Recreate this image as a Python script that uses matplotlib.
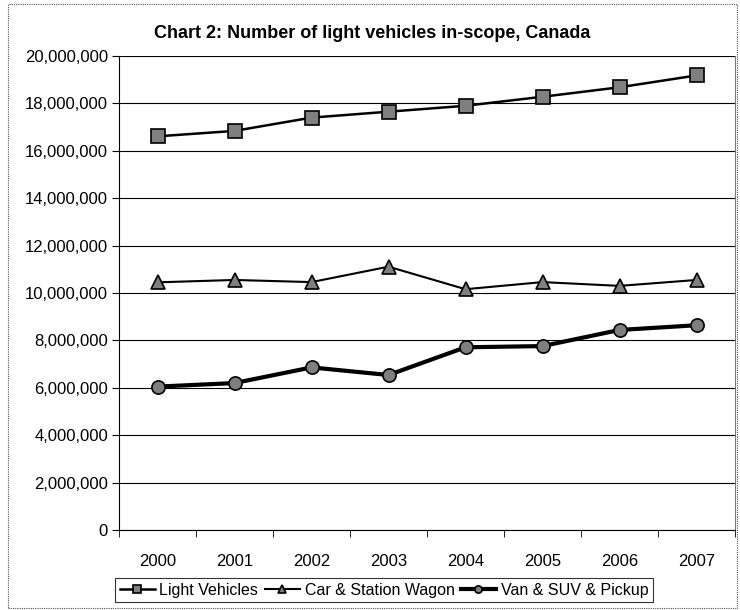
import matplotlib.pyplot as plt
from matplotlib.ticker import FuncFormatter, FixedLocator
from matplotlib.patches import Rectangle

plt.rcParams['font.family'] = ['Liberation Sans', 'DejaVu Sans']

years = ["2000", "2001", "2002", "2003", "2004", "2005", "2006", "2007"]
light_vehicles = [16.61e6, 16.84e6, 17.40e6, 17.65e6, 17.90e6, 18.28e6, 18.68e6, 19.18e6]
car_wagon = [10.45e6, 10.55e6, 10.46e6, 11.11e6, 10.16e6, 10.46e6, 10.30e6, 10.55e6]
van_suv = [6.05e6, 6.20e6, 6.86e6, 6.54e6, 7.71e6, 7.76e6, 8.44e6, 8.64e6]

fig = plt.figure(figsize=(7.4, 6.1), dpi=100)
ax = fig.add_axes([119 / 740, 1 - 530 / 610, (735 - 119) / 740, (530 - 56) / 610])

# outer chart frame
fig.patches.append(Rectangle((8 / 740, 2 / 610), (737 - 8) / 740, (606 - 2) / 610,
                             transform=fig.transFigure, fill=False,
                             edgecolor="#555555", linewidth=0.8, linestyle=(0, (1, 1))))

x = range(len(years))
ax.plot(x, light_vehicles, color="black", linewidth=1.8, marker="s", markersize=9.5,
        markerfacecolor="#7f7f7f", markeredgecolor="black", markeredgewidth=1.2,
        label="Light Vehicles")
ax.plot(x, car_wagon, color="black", linewidth=1.5, marker="^", markersize=10,
        markerfacecolor="#7f7f7f", markeredgecolor="black", markeredgewidth=1.2,
        label="Car & Station Wagon")
ax.plot(x, van_suv, color="black", linewidth=3, marker="o", markersize=9.5,
        markerfacecolor="#7f7f7f", markeredgecolor="black", markeredgewidth=1.2,
        label="Van & SUV & Pickup")

ax.set_xlim(-0.5, len(years) - 0.5)
ax.set_ylim(0, 20e6)
ax.set_yticks(range(0, 20000001, 2000000))
ax.yaxis.set_major_formatter(FuncFormatter(lambda v, p: f"{int(v):,}"))
ax.yaxis.grid(True, color="black", linewidth=0.8)
ax.set_axisbelow(True)

# category labels centred, ticks between categories
ax.set_xticks(list(x))
ax.set_xticklabels(years)
ax.tick_params(axis="x", length=0, pad=17, labelsize=12)
ax.xaxis.set_minor_locator(FixedLocator([i - 0.5 for i in range(len(years) + 1)]))
ax.tick_params(axis="x", which="minor", length=5, direction="out", color="black")
ax.tick_params(axis="y", length=5, direction="out", labelsize=12, pad=3)

ax.spines["left"].set_color("black")
ax.spines["bottom"].set_color("black")
ax.spines["top"].set_visible(False)
ax.spines["right"].set_color("#777777")
ax.spines["right"].set_linestyle((0, (1, 1)))
ax.spines["right"].set_linewidth(0.8)

fig.text(372 / 740, 1 - 34 / 610, "Chart 2: Number of light vehicles in-scope, Canada",
         ha="center", va="center", fontsize=13, fontweight="bold")

leg = fig.legend(loc="center", bbox_to_anchor=(384 / 740, 1 - 590 / 610), ncol=3,
                 frameon=True, fancybox=False, edgecolor="black", fontsize=11.5,
                 handlelength=2.2, handletextpad=0.3, columnspacing=0.4,
                 borderpad=0.3, markerscale=0.55)
leg.get_frame().set_linewidth(0.8)

plt.savefig("out.png", dpi=100)
